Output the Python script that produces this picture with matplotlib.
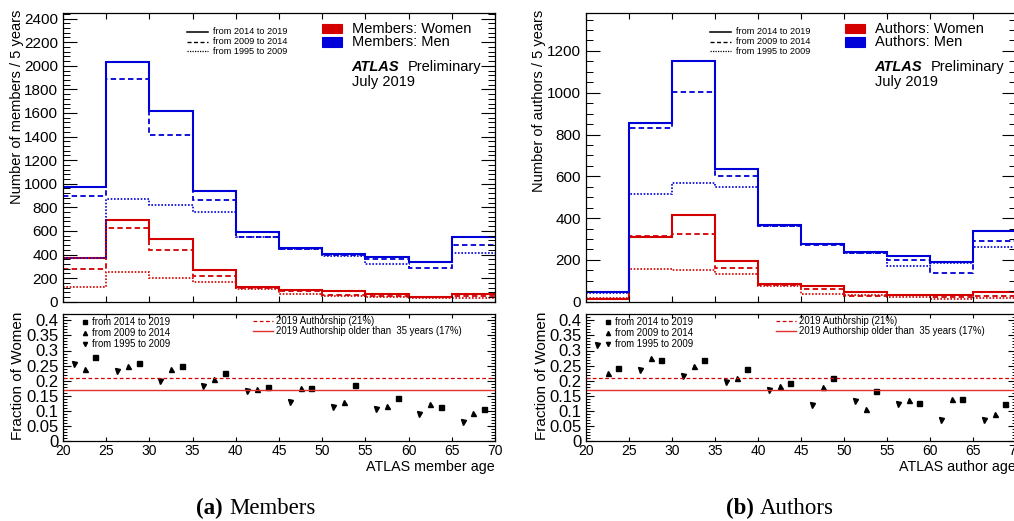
import matplotlib
matplotlib.use("Agg")
import matplotlib.pyplot as plt
from matplotlib.ticker import MultipleLocator, FuncFormatter, NullLocator
from matplotlib.patches import Rectangle
from matplotlib.lines import Line2D

plt.rcParams['font.family'] = ['Liberation Sans', 'DejaVu Sans']

# ---------------- data ----------------
bin_edges = [20, 25, 30, 35, 40, 45, 50, 55, 60, 65, 70]
periods = ["from 2014 to 2019", "from 2009 to 2014", "from 1995 to 2009"]

members_women_2014_2019 = [367, 689, 528, 268, 121, 96, 90, 62, 42, 65]
members_women_2009_2014 = [280, 622, 438, 220, 112, 94, 59, 47, 39, 50]
members_women_1995_2009 = [127, 254, 202, 166, 110, 66, 50, 40, 34, 28]
members_men_2014_2019 = [970, 2030, 1620, 938, 593, 452, 404, 381, 336, 551]
members_men_2009_2014 = [896, 1890, 1410, 862, 551, 444, 393, 359, 282, 480]
members_men_1995_2009 = [367, 870, 822, 760, 545, 444, 387, 319, 336, 410]

authors_women_2014_2019 = [15, 311, 414, 196, 84, 73, 46, 31, 30, 46]
authors_women_2009_2014 = [13, 314, 325, 160, 80, 59, 27, 31, 22, 29]
authors_women_1995_2009 = [20, 155, 151, 132, 74, 38, 34, 24, 14, 19]
authors_men_2014_2019 = [48, 856, 1150, 634, 365, 277, 236, 220, 190, 338]
authors_men_2009_2014 = [45, 833, 1005, 601, 362, 271, 231, 199, 139, 290]
authors_men_1995_2009 = [42, 516, 569, 548, 362, 277, 234, 171, 186, 263]

members_frac_2014_2019 = [0.277, 0.257, 0.248, 0.226, 0.178, 0.176, 0.184, 0.144, 0.113, 0.107]
members_frac_2009_2014 = [0.239, 0.250, 0.238, 0.206, 0.173, 0.176, 0.130, 0.115, 0.122, 0.094]
members_frac_1995_2009 = [0.256, 0.233, 0.199, 0.183, 0.167, 0.128, 0.112, 0.107, 0.090, 0.062]

authors_frac_2014_2019 = [0.241, 0.270, 0.269, 0.239, 0.192, 0.210, 0.167, 0.125, 0.139, 0.121]
authors_frac_2009_2014 = [0.227, 0.276, 0.247, 0.210, 0.182, 0.178, 0.106, 0.137, 0.139, 0.090]
authors_frac_1995_2009 = [0.319, 0.234, 0.214, 0.195, 0.170, 0.120, 0.132, 0.123, 0.070, 0.069]

authorship_2019 = 0.21
authorship_2019_older35 = 0.17
ref_labels = ["2019 Authorship (21%)", "2019 Authorship older than  35 years (17%)"]

# ---------------- style ----------------
W, H = 1014, 521
RED = '#d40000'
BLUE = '#0000d8'
LS = ['-', (0, (3, 1.8)), (0, (1, 1))]
LW = [1.5, 1.3, 1.2]
MARK = ['s', '^', 'v']
OFFS = [3.75, 2.5, 1.25]

fig = plt.figure(figsize=(W / 100, H / 100), dpi=100)


def px_axes(x0, y0, x1, y1):
    return fig.add_axes([x0 / W, 1 - y1 / H, (x1 - x0) / W, (y1 - y0) / H])


def ftext(x, y, s, **kw):
    return fig.text(x / W, 1 - y / H, s, **kw)


def fline(x0, x1, y, **kw):
    fig.add_artist(Line2D([x0 / W, x1 / W], [1 - y / H, 1 - y / H],
                          transform=fig.transFigure, **kw))


def panel(dx, top_vals, frac_vals, ymax, ymaj, ymin_, ylabel, xlabel, label_word):
    xr = 495 if dx == 0 else 1016
    ax = px_axes(63 + dx, 13.3, xr, 301.7)
    women, men = top_vals
    for k in range(3):
        ax.stairs(women[k], bin_edges, baseline=None, color=RED, lw=LW[k], ls=LS[k])
    for k in range(3):
        ax.stairs(men[k], bin_edges, baseline=None, color=BLUE, lw=LW[k], ls=LS[k])
    ax.set_xlim(20, 70)
    ax.set_ylim(0, ymax)
    ax.set_xticks(bin_edges)
    ax.xaxis.set_minor_locator(NullLocator())
    ax.yaxis.set_major_locator(MultipleLocator(ymaj))
    ax.yaxis.set_minor_locator(MultipleLocator(ymin_))
    ax.tick_params(axis='x', which='major', direction='in', top=True, bottom=True,
                   length=4.5, width=0.8, labelbottom=False)
    ax.tick_params(axis='y', which='major', direction='in', left=True, right=True,
                   length=10, width=0.8, labelsize=11, pad=3.5)
    ax.tick_params(axis='y', which='minor', direction='in', left=True, right=True,
                   length=5, width=0.7)
    for s in ax.spines.values():
        s.set_linewidth(0.9)
    ftext(17.5 + dx + (-2 if dx else 0), 10, ylabel, rotation=90, ha='center', va='top', fontsize=10.5)

    # legends (top)
    for k in range(3):
        y = [31.7, 41.7, 51.0][k]
        fline(187 + dx, 208 + dx, y, color='black', lw=LW[k] * 0.75, ls=LS[k])
        ftext(212.7 + dx, y, periods[k], ha='left', va='center', fontsize=6.6)
    for yy0, yy1, col, word in [(24, 33.3, RED, 'Women'), (37, 46.7, BLUE, 'Men')]:
        fig.add_artist(Rectangle(((321.7 + dx) / W, 1 - yy1 / H), 20.6 / W, (yy1 - yy0) / H,
                                 transform=fig.transFigure, facecolor=col,
                                 edgecolor=col, lw=0.8))
        ftext(351.7 + dx, (yy0 + yy1) / 2, f"{label_word}: {word}", ha='left', va='center',
              fontsize=10.5)
    ftext(351.7 + dx, 66.7, "ATLAS", ha='left', va='center', fontsize=10.5,
          fontweight='bold', fontstyle='italic')
    ftext(407.3 + dx, 66.7, "Preliminary", ha='left', va='center', fontsize=10.5)
    ftext(351.7 + dx, 81.7, "July 2019", ha='left', va='center', fontsize=10.5)

    # bottom panel
    bx = px_axes(63 + dx, 314.3, xr, 441)
    for k in range(3):
        xs = [e + OFFS[k] for e in bin_edges[:-1]]
        bx.plot(xs, frac_vals[k], ls='none', marker=MARK[k], color='black',
                ms=3.6, mec='black')
    bx.axhline(authorship_2019, color=RED, lw=0.9, ls=(0, (3, 2)))
    bx.axhline(authorship_2019_older35, color='#e03030', lw=1.0, ls='-')
    bx.set_xlim(20, 70)
    bx.set_ylim(0, 0.42)
    bx.xaxis.set_major_locator(MultipleLocator(5))
    bx.xaxis.set_minor_locator(NullLocator())
    bx.yaxis.set_major_locator(MultipleLocator(0.05))
    bx.yaxis.set_minor_locator(MultipleLocator(0.01))
    bx.yaxis.set_major_formatter(FuncFormatter(lambda v, p: f"{v:g}"))
    bx.tick_params(axis='x', which='major', direction='in', top=True, bottom=True,
                   length=3, width=0.8, labelsize=10, pad=2)
    bx.tick_params(axis='y', which='major', direction='in', left=True, right=True,
                   length=5.5, width=0.8, labelsize=12, pad=3)
    bx.tick_params(axis='y', which='minor', direction='in', left=True, right=True,
                   length=3, width=0.7)
    for s in bx.spines.values():
        s.set_linewidth(0.9)
    ftext(18 + dx + (1 if dx else 0), 376, "Fraction of Women", rotation=90,
          ha='center', va='center', fontsize=11)
    ftext(xr, 466.5, xlabel, ha='right', va='center', fontsize=10.3)

    for k in range(3):
        y = [321.7, 332.7, 343.7][k]
        fig.add_artist(Line2D([(85.3 + dx) / W], [1 - y / H], transform=fig.transFigure,
                              ls='none', marker=MARK[k], color='black', ms=3.0))
        ftext(91.7 + dx, y, periods[k], ha='left', va='center', fontsize=6.9)
    fline(253.3 + dx, 273.3 + dx, 321, color=RED, lw=0.9, ls=(0, (3, 2)))
    fline(253.3 + dx, 273.3 + dx, 330.7, color='#e03030', lw=1.0)
    ftext(276 + dx, 321, ref_labels[0], ha='left', va='center', fontsize=6.9)
    ftext(276 + dx, 330.7, ref_labels[1], ha='left', va='center', fontsize=6.9)


panel(0,
      ([members_women_2014_2019, members_women_2009_2014, members_women_1995_2009],
       [members_men_2014_2019, members_men_2009_2014, members_men_1995_2009]),
      [members_frac_2014_2019, members_frac_2009_2014, members_frac_1995_2009],
      2445, 200, 40, "Number of members / 5 years", "ATLAS member age", "Members")

panel(523,
      ([authors_women_2014_2019, authors_women_2009_2014, authors_women_1995_2009],
       [authors_men_2014_2019, authors_men_2009_2014, authors_men_1995_2009]),
      [authors_frac_2014_2019, authors_frac_2009_2014, authors_frac_1995_2009],
      1380, 200, 50, "Number of authors / 5 years", "ATLAS author age", "Authors")

# captions
serif = ['Liberation Serif', 'DejaVu Serif']
ftext(223, 508, "(a)", ha='right', va='center', fontsize=16.5, fontweight='bold', family=serif)
ftext(229, 508, "Members", ha='left', va='center', fontsize=16.5, family=serif)
ftext(754, 508, "(b)", ha='right', va='center', fontsize=16.5, fontweight='bold', family=serif)
ftext(760, 508, "Authors", ha='left', va='center', fontsize=16.5, family=serif)

fig.savefig("out.png", dpi=100)
